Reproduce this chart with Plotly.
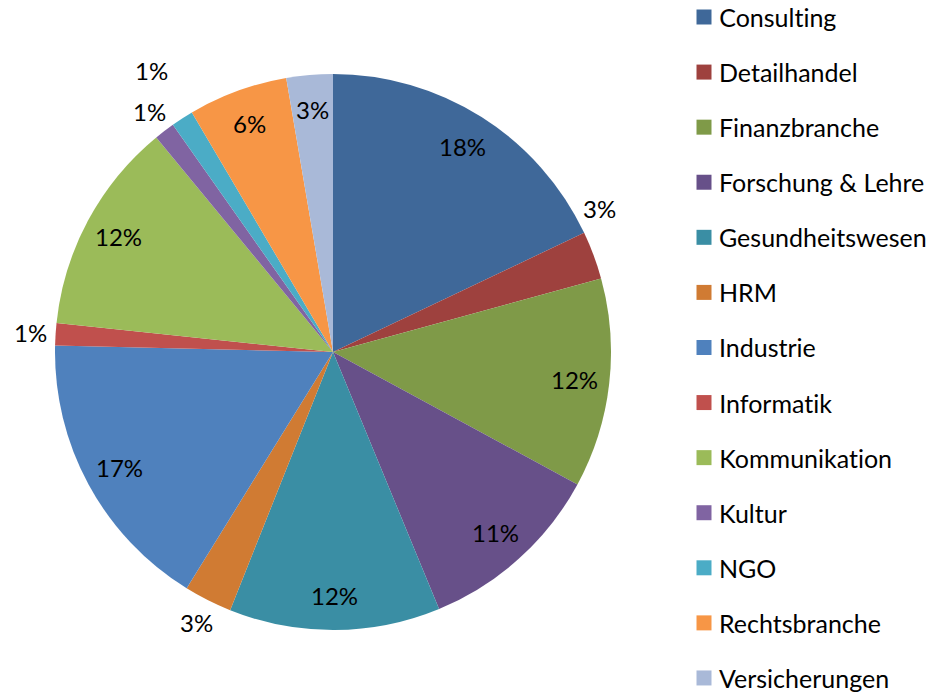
import math
import plotly.graph_objects as go

# ---- data ----
categories = ["Consulting", "Detailhandel", "Finanzbranche", "Forschung & Lehre",
              "Gesundheitswesen", "HRM", "Industrie", "Informatik", "Kommunikation",
              "Kultur", "NGO", "Rechtsbranche", "Versicherungen"]
shares = [18.0, 2.8, 12.2, 10.9, 12.3, 2.8, 16.6, 1.3, 12.4, 1.2, 1.3, 5.8, 2.7]

# ---- style ----
colors = ["#3F6899", "#9E413E", "#7F9A48", "#675089", "#3A8EA4", "#D07B33",
          "#4F81BD", "#C0504D", "#9BBB59", "#8064A2", "#4BACC6", "#F79646", "#A9B9D8"]
label_pos = ["in", "out", "in", "in", "in", "out", "in", "out", "in",
             "out", "out", "in", "in"]
label_angle_nudge = [0, -8, 0, 0, 0, 0, 0, 0, 0, 0, 0, 0, 0]

W, H = 931, 692
FONT = "Lato"
FS = 25
cx_px, cy_px, R = 333, 352, 278

dom_x = [(cx_px - R) / W, (cx_px + R) / W]
dom_y = [1 - (cy_px + R) / H, 1 - (cy_px - R) / H]

fig = go.Figure(go.Pie(
    labels=categories, values=shares, marker=dict(colors=colors, line=dict(width=0)),
    sort=False, direction="clockwise", rotation=0, textinfo="none",
    hoverinfo="label+percent", showlegend=False,
    domain=dict(x=dom_x, y=dom_y),
))

total = sum(shares)
annotations = []
shapes = []
cum = 0.0
prev_out = None
for v, pos, nud in zip(shares, label_pos, label_angle_nudge):
    mid = (cum + v / 2) / total * 2 * math.pi + math.radians(nud)
    cum += v
    txt = f"{round(v / total * 100)}%"
    if pos == "in":
        r = 0.875 * R
    else:
        r = 1.09 * R
        px = cx_px + r * math.sin(mid)
        py = cy_px - r * math.cos(mid)
        if prev_out is not None:
            while math.hypot(px - prev_out[0], py - prev_out[1]) < 40:
                r += 2
                px = cx_px + r * math.sin(mid)
                py = cy_px - r * math.cos(mid)
    px = cx_px + r * math.sin(mid)
    py = cy_px - r * math.cos(mid)
    if pos == "out":
        prev_out = (px, py)
    annotations.append(dict(x=px / W, y=1 - py / H, xref="paper", yref="paper",
                            text=txt, showarrow=False, xanchor="center", yanchor="middle",
                            font=dict(family=FONT, size=FS - 1, color="#000000")))

# manual legend
lx, ly0, step, sq = 704, 17, 55.08, 15
for i, (name, col) in enumerate(zip(categories, colors)):
    yc = ly0 + i * step
    shapes.append(dict(type="rect", xref="paper", yref="paper",
                       x0=(lx - sq / 2) / W, x1=(lx + sq / 2) / W,
                       y0=1 - (yc + sq / 2) / H, y1=1 - (yc - sq / 2) / H,
                       fillcolor=col, line=dict(width=0)))
    annotations.append(dict(x=717 / W, y=1 - yc / H, xref="paper", yref="paper",
                            text=name, showarrow=False, xanchor="left", yanchor="middle",
                            font=dict(family=FONT, size=FS, color="#000000")))

fig.update_layout(
    width=W, height=H, margin=dict(l=0, r=0, t=0, b=0),
    paper_bgcolor="white", plot_bgcolor="white",
    annotations=annotations, shapes=shapes,
)
fig.write_html(
    "out.html",
    config={"displayModeBar": False},
    post_script=(
        "document.body.style.margin='0';document.body.style.overflow='hidden';"
        "var s=document.createElement('style');"
        "s.textContent='text{font-variant-ligatures:none !important;}';"
        "document.head.appendChild(s);"
    ),
)
